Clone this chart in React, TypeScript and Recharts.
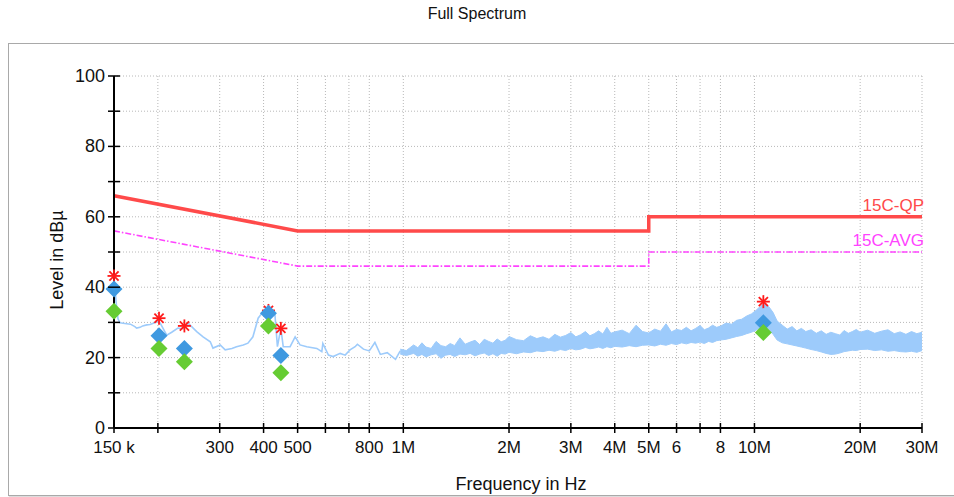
import React from "react";
import {
  ComposedChart,
  Line,
  Area,
  Scatter,
  XAxis,
  YAxis,
  CartesianGrid,
} from "recharts";

// frequencies in MHz, levels in dBµV
const xTicks = [0.15, 0.2, 0.3, 0.4, 0.5, 0.6, 0.7, 0.8, 1, 2, 3, 4, 5, 6, 7, 8, 10, 20, 30];
const xTickLabels = ["150 k", "", "300", "400", "500", "", "", "800", "1M", "2M", "3M", "4M", "5M", "6", "", "8", "10M", "20M", "30M"];
const yTicks = [0, 10, 20, 30, 40, 50, 60, 70, 80, 90, 100];

// low-frequency part of the scan (thin trace)
const traceFreq = [
  0.15, 0.151, 0.152, 0.154, 0.156, 0.161, 0.167, 0.172, 0.174, 0.178, 0.181, 0.186, 0.19, 0.195,
  0.199, 0.203, 0.212, 0.219, 0.228, 0.236, 0.244, 0.258, 0.269, 0.282, 0.287, 0.301, 0.311, 0.325,
  0.335, 0.35, 0.361, 0.373, 0.386, 0.395, 0.407, 0.418, 0.431, 0.438, 0.448, 0.455, 0.476, 0.492,
  0.508, 0.531, 0.567, 0.586, 0.59, 0.612, 0.631, 0.661, 0.683, 0.705, 0.729, 0.74, 0.77, 0.8,
  0.83, 0.86, 0.9, 0.95, 0.98,
];
const traceLevel = [
  39, 40, 36, 31, 29.9, 29.7, 29.5, 28.8, 28.4, 28.6, 29, 29.3, 29.4, 29.8,
  30.4, 29.8, 26.4, 27.2, 28.4, 28.2, 29.8, 27.4, 25.9, 24.5, 22.7, 23.6, 22.2, 22.6,
  23.1, 23.6, 24.1, 25.9, 31.2, 32.5, 33.6, 34.2, 32.1, 23.1, 28.3, 23.1, 23.1, 25.9,
  23.6, 23.1, 22.6, 21.7, 24, 20.7, 20.3, 21.2, 20.7, 22.2, 23.1, 23.8, 22.4, 21.9,
  24.3, 20.9, 21.4, 19.5, 21.9,
];

// high-frequency part of the scan (dense noise band: low / high envelope)
const bandFreq = [
  0.98, 1.02, 1.07, 1.1, 1.13, 1.16, 1.2, 1.24, 1.28, 1.32,
  1.36, 1.4, 1.45, 1.5, 1.55, 1.6, 1.65, 1.7, 1.75, 1.8,
  1.85, 1.9, 1.95, 2.0, 2.1, 2.2, 2.3, 2.4, 2.5, 2.6,
  2.7, 2.8, 2.9, 3.0, 3.1, 3.2, 3.3, 3.4, 3.5, 3.6,
  3.7, 3.8, 3.9, 4.0, 4.2, 4.4, 4.6, 4.8, 5.0, 5.2,
  5.4, 5.6, 5.8, 6.0, 6.2, 6.4, 6.6, 6.8, 7.0, 7.2,
  7.4, 7.6, 7.8, 8.0, 8.3, 8.6, 8.9, 9.2, 9.5, 9.8,
  10.1, 10.4, 10.7, 11.0, 11.3, 11.6, 12.0, 12.4, 12.8, 13.2,
  13.6, 14.0, 14.5, 15.0, 15.5, 16.0, 16.5, 17.0, 17.5, 18.0,
  18.5, 19.0, 19.5, 20, 21, 22, 23, 24, 25, 26,
  27, 28, 29, 30,
];
const bandLow = [
  21.0, 20.6, 21.2, 20.4, 20.9, 20.2, 20.8, 21.1, 19.8, 20.7,
  20.9, 20.3, 21.0, 20.8, 21.2, 20.5, 21.0, 21.3, 20.6, 21.1,
  20.4, 21.2, 21.0, 21.5, 21.1, 21.6, 21.4, 21.9, 21.7, 22.1,
  21.8, 22.3, 22.0, 22.6, 22.2, 22.4, 22.9, 22.5, 22.7, 23.0,
  22.6, 23.1, 22.8, 23.2, 23.0, 23.4, 23.1, 23.5, 23.6, 23.3,
  23.8, 23.5, 24.0, 23.7, 24.2, 23.9, 24.3, 24.1, 24.4, 24.0,
  24.6, 24.3, 24.8, 25.0, 25.2, 25.6, 26.0, 26.3, 26.8, 27.2,
  27.8, 28.6, 29.0, 28.0, 26.6, 25.0, 24.2, 23.9, 23.6, 23.3,
  23.0, 22.7, 22.3, 22.0, 21.6, 21.2, 20.9, 21.0, 21.3, 21.7,
  21.9, 22.1, 22.0, 22.3, 22.4, 22.0, 22.2, 21.8, 22.0, 21.7,
  21.6, 21.8, 21.5, 22.0,
];
const bandHigh = [
  22.4, 22.0, 23.6, 22.8, 24.2, 23.0, 22.6, 24.6, 23.4, 23.1,
  24.0, 23.4, 25.6, 23.8, 24.4, 24.9, 23.7, 25.2, 24.6, 24.1,
  25.3, 24.5, 24.9, 26.0, 25.1, 24.8, 26.2, 25.4, 25.9, 25.2,
  26.6, 25.8, 26.3, 27.1, 25.9, 26.5, 27.4, 26.2, 26.8, 27.6,
  26.7, 28.6, 26.9, 27.3, 27.8, 26.8, 29.2, 27.4, 27.0, 28.1,
  27.5, 29.6, 27.3, 28.0, 27.7, 28.6, 27.6, 28.3, 29.1, 27.9,
  28.4, 29.2, 28.6, 28.9, 29.8, 29.5, 30.6, 30.9, 31.8, 32.4,
  33.4, 34.6, 35.4, 34.4, 32.8, 30.4, 29.2, 28.1, 28.8, 27.6,
  28.3, 27.4, 27.9, 26.9, 27.6, 26.6, 27.2, 26.8, 26.4, 27.7,
  26.9, 27.4, 28.0, 27.2, 27.8, 26.9, 27.5, 27.9, 26.8, 27.3,
  26.6, 27.4, 26.8, 27.2,
];

// limit lines (CISPR 15)
const limitFreq = [0.15, 0.5, 5, 5, 30];
const qpLimit = [66, 56, 56, 60, 60];
const avgLimit = [56, 46, 46, 50, 50];

// final measurement markers
const markerFreq = [0.15, 0.2015, 0.238, 0.413, 0.448, 10.6];
const peakLevel = [43.2, 31.2, 29.0, 33.4, 28.3, 35.9];
const qpLevel = [39.5, 26.2, 22.6, 32.6, 20.6, 29.9];
const avgLevel = [33.2, 22.6, 18.8, 29.0, 15.7, 27.1];

const traceData = traceFreq.map((f, i) => ({ f, v: traceLevel[i] }));
const bandData = bandFreq.map((f, i) => ({ f, r: [bandLow[i], bandHigh[i]] }));
const qpData = limitFreq.map((f, i) => ({ f, v: qpLimit[i] }));
const avgData = limitFreq.map((f, i) => ({ f, v: avgLimit[i] }));
const peakData = markerFreq.map((f, i) => ({ f, v: peakLevel[i] }));
const qpMarkData = markerFreq.map((f, i) => ({ f, v: qpLevel[i] }));
const avgMarkData = markerFreq.map((f, i) => ({ f, v: avgLevel[i] }));

const FONT = "'Liberation Sans', Arial, sans-serif";
const TRACE = "#9dcbfb";

const XTick = (props: any) => {
  const { x, y, payload } = props;
  const label = xTickLabels[xTicks.indexOf(payload.value)] ?? "";
  return (
    <g>
      <line x1={x} x2={x} y1={y - 5} y2={y + 5} stroke="#000" strokeWidth={1.5} />
      <text x={x} y={y + 25} textAnchor="middle" fontSize={17} fontFamily={FONT} fill="#111">
        {label}
      </text>
    </g>
  );
};

const YTick = (props: any) => {
  const { x, y, payload } = props;
  return (
    <g>
      <line x1={x - 6} x2={x + 6} y1={y} y2={y} stroke="#000" strokeWidth={1.5} />
      {payload.value % 20 === 0 && (
        <text x={x - 9} y={y + 6} textAnchor="end" fontSize={18} fontFamily={FONT} fill="#111">
          {payload.value}
        </text>
      )}
    </g>
  );
};

const Asterisk = (props: any) => {
  const { cx, cy } = props;
  const r = 6.5;
  const d = r * 0.707;
  return (
    <g stroke="#ff1a1a" strokeWidth={1.8}>
      <line x1={cx - r} x2={cx + r} y1={cy} y2={cy} />
      <line x1={cx} x2={cx} y1={cy - r} y2={cy + r} />
      <line x1={cx - d} x2={cx + d} y1={cy - d} y2={cy + d} />
      <line x1={cx - d} x2={cx + d} y1={cy + d} y2={cy - d} />
    </g>
  );
};

const diamond = (fill: string) => (props: any) => {
  const { cx, cy } = props;
  const r = 8.5;
  return <polygon points={`${cx},${cy - r} ${cx + r},${cy} ${cx},${cy + r} ${cx - r},${cy}`} fill={fill} />;
};

const limitLabel = (text: string, color: string, last: number) => (props: any) => {
  const { x, y, index } = props;
  if (index !== last) return null;
  return (
    <text x={x + 2} y={y - 6} textAnchor="end" fontSize={17} fontFamily={FONT} fill={color}>
      {text}
    </text>
  );
};

export default function App() {
  return (
    <div style={{ position: "fixed", left: 0, top: 0, width: 954, height: 497, background: "#fff", overflow: "hidden" }}>
      <div
        style={{
          position: "absolute",
          top: 5,
          left: 0,
          width: 954,
          textAlign: "center",
          fontFamily: FONT,
          fontSize: 16,
          color: "#111",
        }}
      >
        Full Spectrum
      </div>
      <div
        style={{
          position: "absolute",
          left: 8,
          top: 43,
          width: 960,
          height: 451,
          border: "1px solid #a9a9a9",
          boxShadow: "1px 1px 1px #ddd",
        }}
      />
      <div style={{ position: "absolute", left: 0, top: 0 }}>
        <ComposedChart width={954} height={497} margin={{ top: 76, right: 32, left: 0, bottom: 9 }}>
          <CartesianGrid stroke="#b8b8b8" strokeDasharray="1 2" />
          <XAxis
            dataKey="f"
            type="number"
            scale="log"
            domain={[0.15, 30]}
            ticks={xTicks}
            interval={0}
            height={60}
            tickSize={0}
            tickMargin={0}
            tickLine={false}
            tick={<XTick />}
            axisLine={{ stroke: "#000", strokeWidth: 2 }}
            label={(p: any) => (
              <text
                x={p.viewBox.x + p.viewBox.width / 2 + 3}
                y={p.viewBox.y + 62}
                textAnchor="middle"
                fontSize={18}
                fontFamily={FONT}
                fill="#111"
              >
                Frequency in Hz
              </text>
            )}
          />
          <YAxis
            type="number"
            domain={[0, 100]}
            ticks={yTicks}
            interval={0}
            width={114}
            tickSize={0}
            tickMargin={0}
            tickLine={false}
            tick={<YTick />}
            axisLine={{ stroke: "#000", strokeWidth: 2 }}
            label={(p: any) => {
              const cx = p.viewBox.x + p.viewBox.width - 56;
              const cy = p.viewBox.y + p.viewBox.height / 2 + 8;
              return (
                <text
                  x={cx}
                  y={cy}
                  transform={`rotate(-90 ${cx} ${cy})`}
                  textAnchor="middle"
                  dominantBaseline="middle"
                  fontSize={18}
                  fontFamily={FONT}
                  fill="#111"
                >
                  Level in dBµ
                </text>
              );
            }}
          />
          <Area
            data={bandData}
            dataKey="r"
            type="linear"
            stroke={TRACE}
            strokeWidth={1}
            fill={TRACE}
            fillOpacity={1}
            isAnimationActive={false}
          />
          <Line
            data={traceData}
            dataKey="v"
            type="linear"
            stroke={TRACE}
            strokeWidth={1.6}
            dot={false}
            isAnimationActive={false}
          />
          <Line
            data={avgData}
            dataKey="v"
            type="linear"
            stroke="#ff44ff"
            strokeWidth={1.6}
            strokeDasharray="6 2 1.5 2"
            dot={false}
            label={limitLabel("15C-AVG", "#ff44ff", 4)}
            isAnimationActive={false}
          />
          <Line
            data={qpData}
            dataKey="v"
            type="linear"
            stroke="#ff4a4a"
            strokeWidth={3.5}
            dot={false}
            label={limitLabel("15C-QP", "#ff4a4a", 4)}
            isAnimationActive={false}
          />
          <Scatter data={peakData} dataKey="v" shape={<Asterisk />} isAnimationActive={false} />
          <Scatter data={qpMarkData} dataKey="v" shape={diamond("#3f99e0")} isAnimationActive={false} />
          <Scatter data={avgMarkData} dataKey="v" shape={diamond("#66cc33")} isAnimationActive={false} />
        </ComposedChart>
      </div>
    </div>
  );
}
